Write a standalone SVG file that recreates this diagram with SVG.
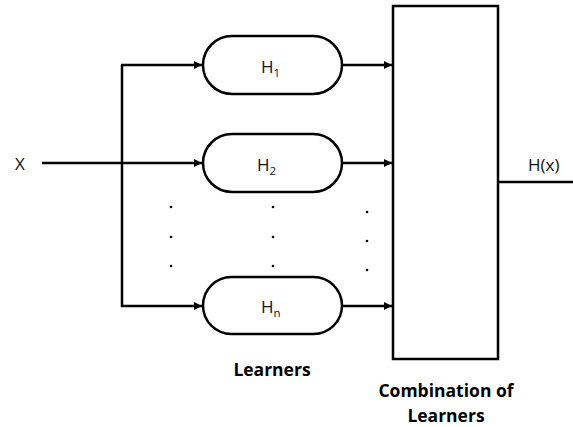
<svg xmlns="http://www.w3.org/2000/svg" width="573" height="427" viewBox="0 0 573 427">
<style>
.ln{fill:none;stroke:#000;stroke-width:2.5}
.pill{fill:#fff;stroke:#000;stroke-width:2.5}
.t{font-family:"Open Sans","Liberation Sans",sans-serif;font-size:17px;fill:#111}
.sub{font-size:11.5px}
.b{font-family:"Open Sans","Liberation Sans",sans-serif;font-size:17.5px;font-weight:bold;fill:#000;text-anchor:middle}
.dot{fill:#000}
</style>
<defs>
<marker id="ah" viewBox="0 0 10 10" refX="10" refY="5" markerWidth="8" markerHeight="8" markerUnits="userSpaceOnUse" orient="auto">
<path d="M0,0 L10,5 L0,10 z" fill="#000"/>
</marker>
</defs>
<rect width="573" height="427" fill="#fff"/>
<g id="connectors">
<path class="ln" d="M42,163 H202" marker-end="url(#ah)"/>
<path class="ln" d="M122,65 V306 H202" marker-end="url(#ah)"/>
<path class="ln" d="M121,65 H202" marker-end="url(#ah)"/>
<path class="ln" d="M342,65 H392" marker-end="url(#ah)"/>
<path class="ln" d="M342,163 H392" marker-end="url(#ah)"/>
<path class="ln" d="M342,306 H392" marker-end="url(#ah)"/>
<path class="ln" d="M498,182 H573"/>
</g>
<g id="x-input"><text class="t" x="15" y="170">X</text></g>
<g id="h1">
<rect class="pill" x="203" y="36" width="139" height="58" rx="29" ry="29"/>
<text class="t" x="261" y="73">H<tspan class="sub" dy="4">1</tspan></text>
</g>
<g id="h2">
<rect class="pill" x="203" y="134" width="139" height="58" rx="29" ry="29"/>
<text class="t" x="257" y="171">H<tspan class="sub" dy="4">2</tspan></text>
</g>
<g id="hn">
<rect class="pill" x="203" y="277" width="139" height="57" rx="28.5" ry="28.5"/>
<text class="t" x="261" y="313">H<tspan class="sub" dy="4">n</tspan></text>
</g>
<g id="dots">
<circle class="dot" cx="171" cy="207" r="1.3"/><circle class="dot" cx="171" cy="237" r="1.3"/><circle class="dot" cx="171" cy="266" r="1.3"/>
<circle class="dot" cx="273" cy="207" r="1.3"/><circle class="dot" cx="273" cy="237" r="1.3"/><circle class="dot" cx="273" cy="266" r="1.3"/>
<circle class="dot" cx="367" cy="212" r="1.3"/><circle class="dot" cx="367" cy="241" r="1.3"/><circle class="dot" cx="367" cy="270" r="1.3"/>
</g>
<g id="combiner">
<rect x="393" y="6" width="105" height="353" fill="#fff" stroke="#000" stroke-width="2.5"/>
</g>
<g id="output"><text class="t" x="528" y="171">H(x)</text></g>
<g id="labels">
<text class="b" x="272" y="376">Learners</text>
<text class="b" x="446" y="397">Combination of</text>
<text class="b" x="446" y="422">Learners</text>
</g>
</svg>
